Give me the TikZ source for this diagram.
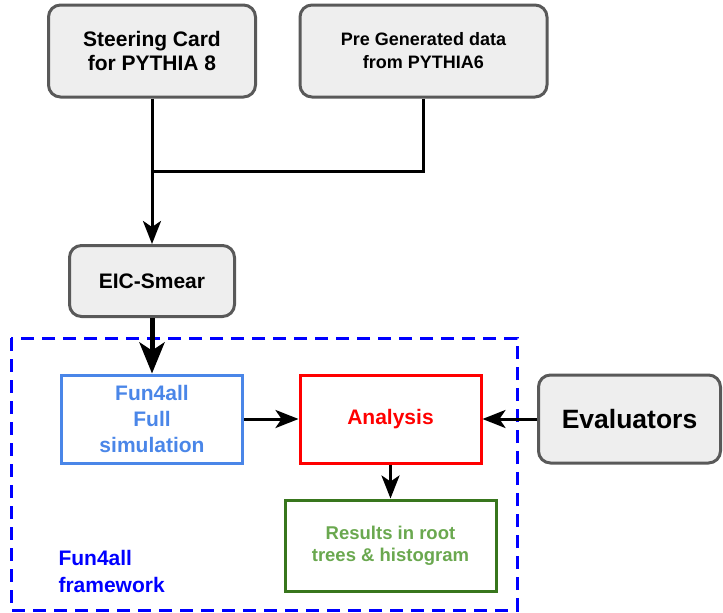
\documentclass[tikz,border=0pt]{standalone}
\usepackage{fontspec}
\setmainfont{Liberation Sans}
\usetikzlibrary{arrows.meta}
\definecolor{boxgrey}{HTML}{595959}
\definecolor{boxfill}{HTML}{EEEEEE}
\definecolor{simblue}{HTML}{4A86E8}
\definecolor{resgreen}{HTML}{38761D}
\definecolor{restext}{HTML}{6AA84F}
\tikzset{
  greybox/.style={draw=boxgrey, fill=boxfill, line width=3pt, rounded corners=12pt, align=center, font=\bfseries\fontsize{21}{24}\selectfont},
  plainbox/.style={line width=3pt, align=center, font=\bfseries\fontsize{21}{26}\selectfont},
  link/.style={line width=3pt, -{Stealth[length=23pt,width=18pt,inset=6pt]}},
}
\begin{document}
\begin{tikzpicture}[x=1pt,y=-1pt]
\useasboundingbox (0,0) rectangle (723,613);

% framework
\draw [blue, line width=3pt, dash pattern=on 13pt off 8pt] (11,338) rectangle (517,610);
\node [anchor=west, blue, align=left, font=\bfseries\fontsize{21}{27}\selectfont] (fwlabel) at (55,571) {Fun4all\\framework};

% inputs
\node [greybox, minimum width=207pt, minimum height=92pt] (steer) at (152,51) {Steering Card\\for PYTHIA 8};
\node [greybox, minimum width=247pt, minimum height=92pt, font=\bfseries\fontsize{18}{23}\selectfont] (pregen) at (423.5,51) {Pre Generated data\\from PYTHIA6};
\node [greybox, minimum width=165pt, minimum height=71pt] (eic) at (152,281) {EIC-Smear};

% chain
\node [plainbox, draw=simblue, text=simblue, minimum width=181pt, minimum height=88pt] (fun) at (152,419) {Fun4all\\Full\\simulation};
\node [plainbox, draw=red, text=red, minimum width=181pt, minimum height=88pt] (ana) at (390.5,419) {Analysis};
\node [greybox, minimum width=182pt, minimum height=88pt, font=\bfseries\fontsize{26.5}{30}\selectfont] (eval) at (629.5,419) {Evaluators};
\node [plainbox, draw=resgreen, text=restext, minimum width=211pt, minimum height=91pt, font=\bfseries\fontsize{18.5}{22}\selectfont] (res) at (390.5,545.5) {Results in root\\trees \& histogram};

\coordinate (join) at (152,171);
\draw [line width=3pt] (pregen.south) |- (join);
\draw [link] (steer) -- (eic);
\draw [line width=5pt, -{Stealth[length=31pt,width=25pt,inset=8pt]}] (eic) -- (fun);
\draw [link] (fun) -- (ana);
\draw [link] (eval) -- (ana);
\draw [link] (ana) -- (res);
\end{tikzpicture}
\end{document}
